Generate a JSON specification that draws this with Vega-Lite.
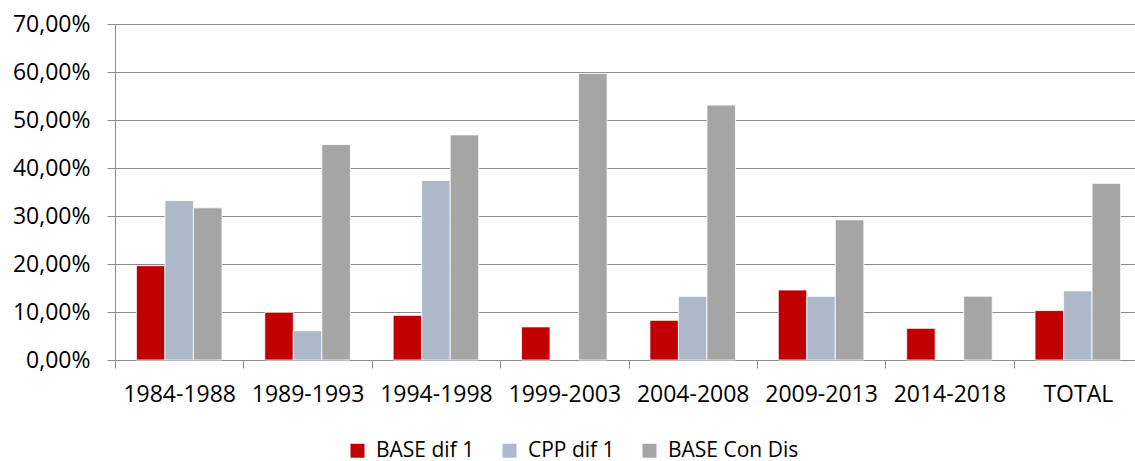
{
  "$schema": "https://vega.github.io/schema/vega-lite/v6.json",
  "width": 1020,
  "height": 336,
  "autosize": {"type": "none"},
  "padding": {"left": 115, "top": 24, "right": 0, "bottom": 101},
  "background": "#ffffff",
  "data": {
    "values": [
      {"period": "1984-1988", "series": "BASE dif 1", "value": 0.1965},
      {"period": "1984-1988", "series": "CPP dif 1", "value": 0.332},
      {"period": "1984-1988", "series": "BASE Con Dis", "value": 0.317},
      {"period": "1989-1993", "series": "BASE dif 1", "value": 0.0995},
      {"period": "1989-1993", "series": "CPP dif 1", "value": 0.061},
      {"period": "1989-1993", "series": "BASE Con Dis", "value": 0.449},
      {"period": "1994-1998", "series": "BASE dif 1", "value": 0.093},
      {"period": "1994-1998", "series": "CPP dif 1", "value": 0.374},
      {"period": "1994-1998", "series": "BASE Con Dis", "value": 0.469},
      {"period": "1999-2003", "series": "BASE dif 1", "value": 0.069},
      {"period": "1999-2003", "series": "BASE Con Dis", "value": 0.597},
      {"period": "2004-2008", "series": "BASE dif 1", "value": 0.0826},
      {"period": "2004-2008", "series": "CPP dif 1", "value": 0.1326},
      {"period": "2004-2008", "series": "BASE Con Dis", "value": 0.531},
      {"period": "2009-2013", "series": "BASE dif 1", "value": 0.1458},
      {"period": "2009-2013", "series": "CPP dif 1", "value": 0.1326},
      {"period": "2009-2013", "series": "BASE Con Dis", "value": 0.292},
      {"period": "2014-2018", "series": "BASE dif 1", "value": 0.066},
      {"period": "2014-2018", "series": "BASE Con Dis", "value": 0.133},
      {"period": "TOTAL", "series": "BASE dif 1", "value": 0.103},
      {"period": "TOTAL", "series": "CPP dif 1", "value": 0.144},
      {"period": "TOTAL", "series": "BASE Con Dis", "value": 0.368}
    ]
  },
  "mark": {"type": "bar", "stroke": "#ffffff", "strokeWidth": 0.8},
  "encoding": {
    "x": {
      "field": "period",
      "type": "nominal",
      "sort": null,
      "scale": {"paddingInner": 0, "paddingOuter": 0, "range": [0, 1027]},
      "axis": {
        "title": null,
        "labelAngle": 0,
        "tickBand": "extent",
        "ticks": true,
        "tickSize": 8,
        "tickColor": "#8c8c8c",
        "domainColor": "#8c8c8c",
        "labelPadding": 15,
        "labelFont": "Open Sans",
        "labelFontSize": 23,
        "labelColor": "#000000",
        "grid": false
      }
    },
    "xOffset": {
      "field": "series",
      "type": "nominal",
      "scale": {"domain": ["BASE dif 1", "CPP dif 1", "BASE Con Dis"], "paddingInner": 0, "paddingOuter": 0.75}
    },
    "y": {
      "field": "value",
      "type": "quantitative",
      "scale": {"domain": [0, 0.7], "nice": false},
      "axis": {
        "title": null,
        "values": [0, 0.1, 0.2, 0.3, 0.4, 0.5, 0.6, 0.7],
        "labelExpr": "replace(format(datum.value, '.2%'), '.', ',')",
        "grid": true,
        "gridColor": "#8c8c8c",
        "gridWidth": 1,
        "domainColor": "#8c8c8c",
        "tickColor": "#8c8c8c",
        "tickSize": 8,
        "labelPadding": 17,
        "labelFont": "Open Sans",
        "labelFontSize": 23,
        "labelColor": "#000000"
      }
    },
    "color": {
      "field": "series",
      "type": "nominal",
      "scale": {"domain": ["BASE dif 1", "CPP dif 1", "BASE Con Dis"], "range": ["#C00000", "#ADB9CA", "#A5A5A5"]},
      "legend": {
        "title": null,
        "orient": "none",
        "direction": "horizontal",
        "legendX": 232,
        "legendY": 416,
        "symbolType": "square",
        "symbolSize": 196,
        "symbolStrokeWidth": 0,
        "labelFont": "Open Sans",
        "labelFontSize": 21,
        "labelColor": "#000000",
        "labelOffset": 8,
        "columnPadding": 24,
        "labelLimit": 300
      }
    }
  },
  "config": {"view": {"stroke": null}}
}
